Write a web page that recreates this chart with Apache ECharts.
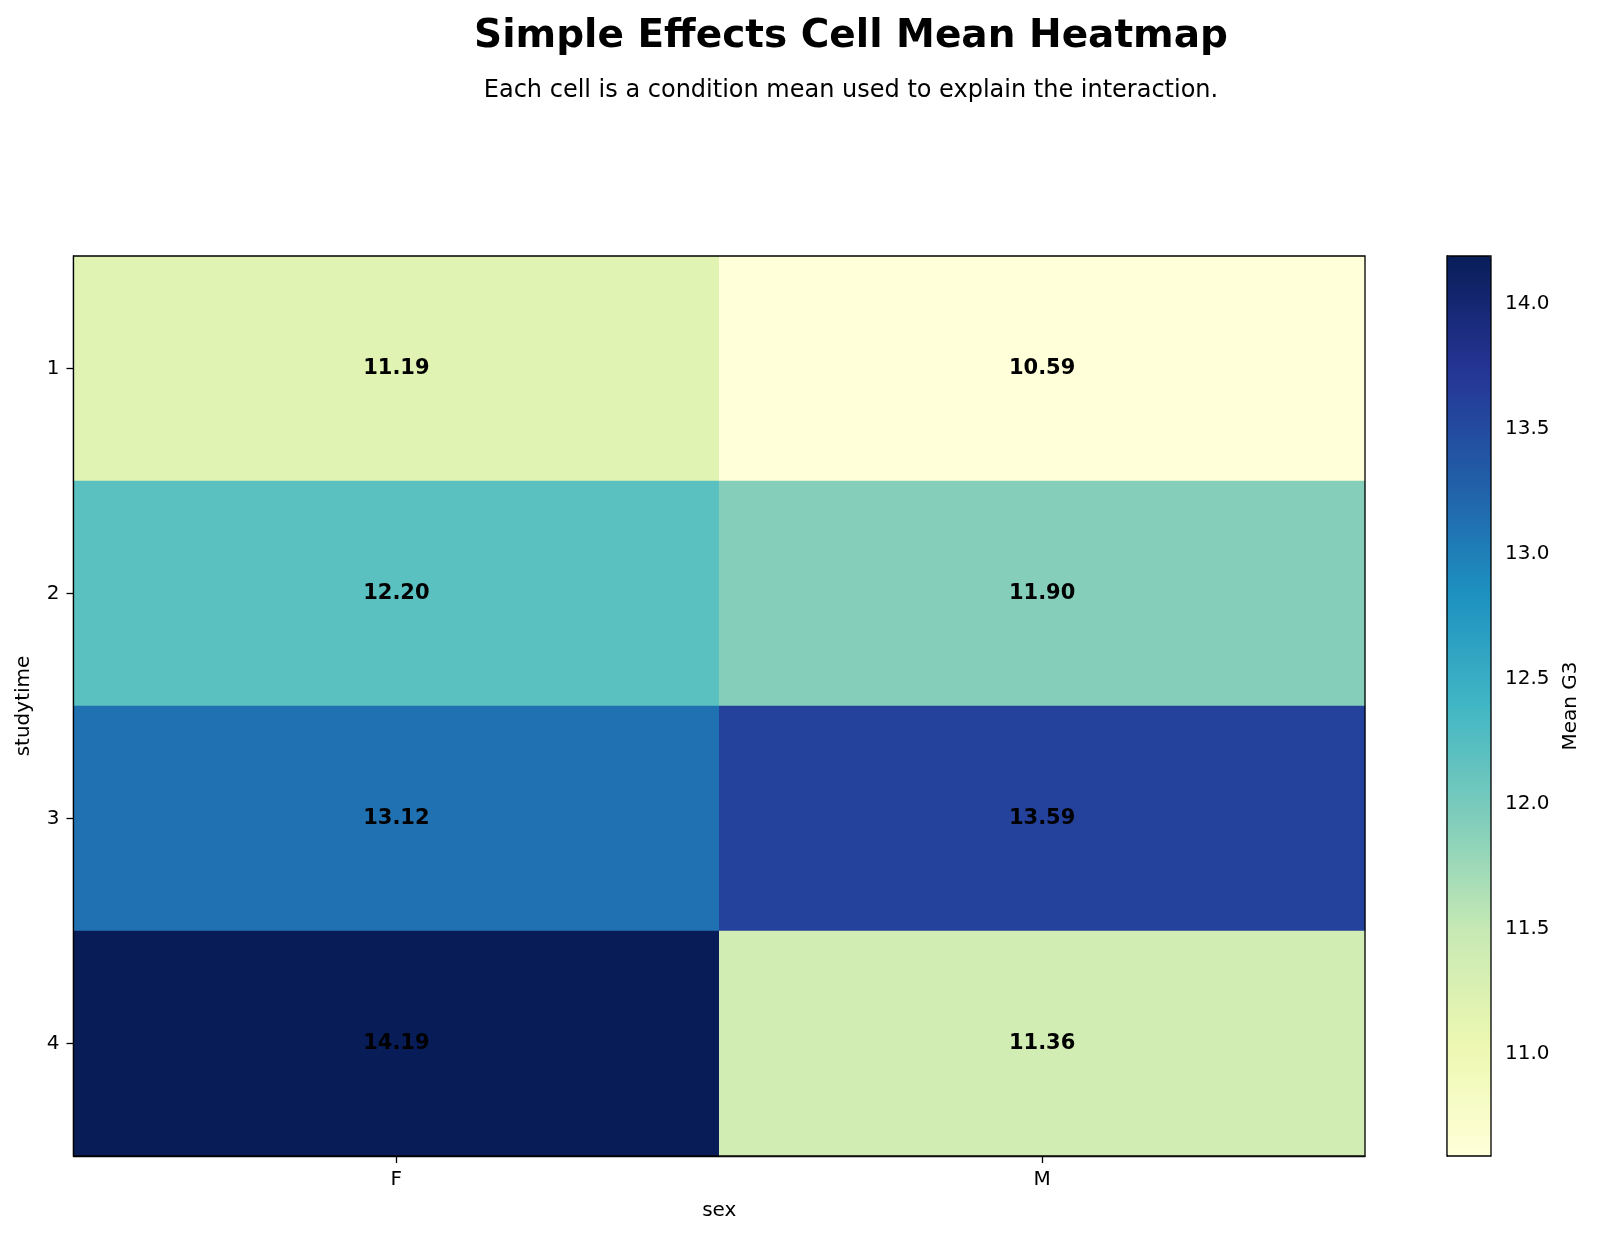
<!DOCTYPE html>
<html>
<head>
<meta charset="utf-8">
<script src="https://cdn.jsdelivr.net/npm/echarts@6/dist/echarts.min.js"></script>
<style>
  html, body { margin: 0; padding: 0; background: #fff; }
  #chart { width: 1600px; height: 1238px; }
</style>
</head>
<body>
<div id="chart"></div>
<script>
// categories
const sexList = ['F', 'M'];
const studytimeList = ['1', '2', '3', '4'];
// cell means, one array per sex, ordered by studytime
const meanF = [11.19, 12.20, 13.12, 14.19];
const meanM = [10.59, 11.90, 13.59, 11.36];
// colorbar range and ticks
const cbMin = 10.59;
const cbMax = 14.19;
const cbTicks = [11.0, 11.5, 12.0, 12.5, 13.0, 13.5, 14.0];
// YlGnBu
const ylgnbu = ['#ffffd9', '#edf8b1', '#c7e9b4', '#7fcdbb', '#41b6c4', '#1d91c0', '#225ea8', '#253494', '#081d58'];

const FONT = 'DejaVu Sans';

const cells = [];
[meanF, meanM].forEach((arr, xi) => {
  arr.forEach((v, yi) => {
    cells.push([xi, yi, v]);
  });
});

const myechart = echarts.init(document.getElementById('chart'));
const option = {
  backgroundColor: '#fff',
  animation: false,
  textStyle: { fontFamily: FONT, color: '#000' },
  graphic: [
    {
      type: 'text',
      x: 851,
      y: 37,
      style: {
        text: 'Simple Effects Cell Mean Heatmap',
        font: 'bold 39px "DejaVu Sans"',
        fill: '#000',
        textAlign: 'center',
        textVerticalAlign: 'middle',
      },
    },
    {
      type: 'text',
      x: 851,
      y: 91,
      style: {
        text: 'Each cell is a condition mean used to explain the interaction.',
        font: '24px "DejaVu Sans"',
        fill: '#000',
        textAlign: 'center',
        textVerticalAlign: 'middle',
      },
    },
  ],
  grid: [
    {
      left: 73.5,
      right: 235,
      top: 256,
      bottom: 82,
      show: true,
      z: 10,
      backgroundColor: 'transparent',
      borderColor: '#000',
      borderWidth: 1.3,
    },
    {
      left: 1447,
      width: 44,
      top: 256,
      height: 900,
      show: true,
      z: 10,
      backgroundColor: 'transparent',
      borderColor: '#000',
      borderWidth: 1.3,
    },
  ],
  xAxis: [
    {
      type: 'category',
      gridIndex: 0,
      data: sexList,
      name: 'sex',
      nameLocation: 'middle',
      nameGap: 45,
      nameTextStyle: { fontSize: 20, color: '#000' },
      axisLine: { show: true, lineStyle: { color: '#000', width: 1.3 } },
      axisTick: { show: true, alignWithLabel: true, length: 7, lineStyle: { color: '#000', width: 1.3 } },
      axisLabel: { fontSize: 20, color: '#000', margin: 14 },
      splitLine: { show: false },
    },
    {
      type: 'value',
      gridIndex: 1,
      show: false,
      min: 0,
      max: 1,
    },
  ],
  yAxis: [
    {
      type: 'category',
      gridIndex: 0,
      data: studytimeList,
      inverse: true,
      name: 'studytime',
      nameLocation: 'middle',
      nameGap: 40,
      nameTextStyle: { fontSize: 20, color: '#000' },
      axisLine: { show: true, lineStyle: { color: '#000', width: 1.3 } },
      axisTick: { show: true, alignWithLabel: true, length: 7, lineStyle: { color: '#000', width: 1.3 } },
      axisLabel: { fontSize: 20, color: '#000', margin: 14 },
      splitLine: { show: false },
    },
    {
      type: 'value',
      gridIndex: 1,
      position: 'right',
      min: cbMin,
      max: cbMax,
      name: 'Mean G3',
      nameLocation: 'middle',
      nameRotate: 90,
      nameGap: 70,
      nameTextStyle: { fontSize: 20, color: '#000' },
      axisLine: { show: true, lineStyle: { color: '#000', width: 1.3 } },
      axisTick: { show: true, length: 7, customValues: cbTicks, lineStyle: { color: '#000', width: 1.3 } },
      axisLabel: {
        fontSize: 20,
        color: '#000',
        margin: 14,
        customValues: cbTicks,
        formatter: (v) => v.toFixed(1),
      },
      splitLine: { show: false },
    },
  ],
  visualMap: {
    type: 'continuous',
    seriesIndex: 0,
    dimension: 2,
    min: cbMin,
    max: cbMax,
    calculable: false,
    hoverLink: false,
    left: 1447,
    top: 256,
    padding: 0,
    itemWidth: 44,
    itemHeight: 900,
    showLabel: false,
    text: null,
    inRange: { color: ylgnbu },
  },
  series: [
    {
      type: 'heatmap',
      xAxisIndex: 0,
      yAxisIndex: 0,
      data: cells,
      label: {
        show: true,
        fontSize: 21,
        fontWeight: 'bold',
        color: '#000',
        formatter: (p) => p.value[2].toFixed(2),
      },
      itemStyle: { borderWidth: 0 },
      emphasis: { disabled: true },
    },
  ],
};
myechart.setOption(option);
window.addEventListener('resize', () => myechart.resize());
</script>
</body>
</html>
